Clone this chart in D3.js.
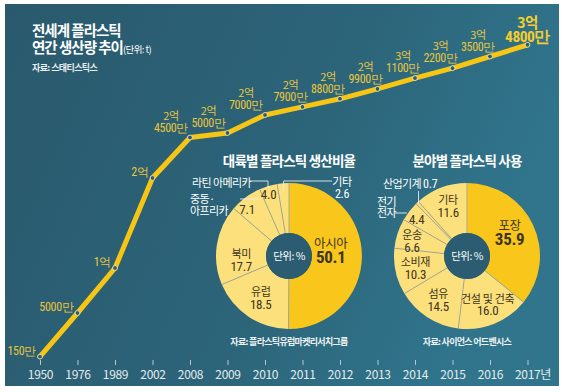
<!DOCTYPE html>
<html><head><meta charset="utf-8">
<script src="https://cdn.jsdelivr.net/npm/d3@7"></script>
<style>
html,body{margin:0;padding:0;background:#fff;}
svg{display:block;font-family:"Noto Sans CJK KR","Noto Sans",sans-serif;}
.num{font-family:"Liberation Sans Narrow","Roboto Condensed","Liberation Sans",sans-serif;}
</style></head>
<body><svg id="c" width="566" height="392"></svg>
<script>
// ---- data ----
const years = ["1950","1976","1989","2002","2008","2009","2010","2011","2012","2013","2014","2015","2016","2017"];
const production = [150, 5000, 10000, 20000, 24500, 25000, 27000, 27900, 28800, 29900, 31100, 32200, 33500, 34800]; // 만 t
const labelTop = ["", "", "", "", "2억", "2억", "2억", "2억", "2억", "2억", "3억", "3억", "3억", "3억"];
const labelBottom = ["150만", "5000만", "1억", "2억", "4500만", "5000만", "7000만", "7900만", "8800만", "9900만", "1100만", "2200만", "3500만", "4800만"];

const regions = ["아시아", "유럽", "북미", "중동·아프리카", "라틴 아메리카", "기타"];
const regionShare = [50.1, 18.5, 17.7, 7.1, 4.0, 2.6];
const sectors = ["포장", "건설 및 건축", "섬유", "소비재", "운송", "전기 전자", "산업기계", "기타"];
const sectorShare = [35.9, 16.0, 14.5, 10.3, 6.6, 4.4, 0.7, 11.6];

// ---- styles ----
const GOLD = "#f7c615", LABEL = "#eac63a", STRONG = "#f9c71c", LIGHT = "#fce07c", DARK = "#3d3520", HOLE = "#2b5c71";

const svg = d3.select("#c");
const defs = svg.append("defs");
const g1 = defs.append("linearGradient").attr("id","bg").attr("x1","0").attr("y1","0").attr("x2","1").attr("y2","0.3");
g1.append("stop").attr("offset","0").attr("stop-color","#2a596d");
g1.append("stop").attr("offset","0.6").attr("stop-color","#2c6479");
g1.append("stop").attr("offset","1").attr("stop-color","#30758c");
svg.append("rect").attr("x",5).attr("y",4).attr("width",554).attr("height",382).attr("fill","url(#bg)");

// ---- title ----
svg.append("text").attr("x",32).attr("y",36).attr("fill","#fff").attr("font-size",14.5).attr("font-weight",700)
  .attr("letter-spacing",-1).text("전세계 플라스틱");
const t2 = svg.append("text").attr("x",32).attr("y",53).attr("fill","#fff").attr("font-size",14.5).attr("font-weight",700).attr("letter-spacing",-1);
t2.append("tspan").text("연간 생산량 추이");
t2.append("tspan").attr("font-size",9.5).attr("font-weight",400).attr("letter-spacing",-0.6).text("(단위: t)");
svg.append("text").attr("x",32).attr("y",71).attr("fill","#e8eef0").attr("font-size",9).attr("font-weight",700)
  .attr("letter-spacing",-0.6).text("자료: 스태티스틱스");

// two-line text helper: one <text> with two tspans
function twoLine(parent, xx, yy1, gap, l1, l2, opt) {
  const t = parent.append("text").attr("text-anchor", opt.anchor || "middle").attr("fill", opt.fill)
    .attr("letter-spacing", opt.ls == null ? -0.4 : opt.ls);
  t.append("tspan").attr("x", xx).attr("y", yy1).attr("font-size", opt.fs1).attr("font-weight", opt.fw1 || 400)
    .attr("class", opt.num1 ? "num" : null).text(l1);
  t.append("tspan").attr("x", xx).attr("y", yy1 + gap).attr("font-size", opt.fs2).attr("font-weight", opt.fw2 || 400)
    .attr("class", opt.num2 ? "num" : null).text(l2);
  return t;
}

// ---- line chart ----
const x = d3.scalePoint().domain(years).range([40, 527.5]);
const y = d3.scaleLinear().domain([0, 40000]).range([358, -2]);

const axis = d3.axisBottom(x).tickSize(5).tickPadding(5).tickFormat(d => d === "2017" ? "2017년" : d);
const ax = svg.append("g").attr("transform","translate(0,360)").call(axis);
ax.select(".domain").remove();
ax.selectAll(".tick line").attr("stroke","#b8c6cc").attr("stroke-width",1);
ax.selectAll(".tick text").attr("fill","#e6ecee").attr("font-size",12).attr("letter-spacing",-0.3)
  .attr("font-family","'Liberation Sans Narrow','Noto Sans CJK KR',sans-serif")
  .attr("dx", d => d === "2017" ? 5 : 0);

const line = d3.line().x((d,i) => x(years[i])).y(d => y(d));
svg.append("path").datum(production).attr("d", line).attr("fill","none")
  .attr("stroke",GOLD).attr("stroke-width",5).attr("stroke-linejoin","round").attr("stroke-linecap","round");

svg.selectAll("circle.pt").data(production).join("circle").attr("class","pt")
  .attr("cx",(d,i)=>x(years[i])).attr("cy",d=>y(d)).attr("r",2.4)
  .attr("fill",HOLE).attr("stroke","#f3e2a0").attr("stroke-width",0.9);

production.forEach((v,i) => {
  const px = x(years[i]), py = y(v);
  const last = i === production.length - 1;
  if (!labelTop[i]) {
    svg.append("text").attr("x", px - 4).attr("y", py - 2).attr("text-anchor","end")
      .attr("fill",LABEL).attr("font-size",12).attr("letter-spacing",-0.3).attr("class","num")
      .text(labelBottom[i]);
  } else if (last) {
    twoLine(svg, px, py - 17, 14, labelTop[i], labelBottom[i],
      {fill:"#f5cd2e", fs1:14.5, fs2:15.5, fw1:700, fw2:700, ls:-0.5, num2:true});
  } else {
    const dx = i <= 6 ? -19 : -12;
    twoLine(svg, px + dx, py - 18, 12, labelTop[i], labelBottom[i],
      {fill:LABEL, fs1:11, fs2:12, ls:-0.3, num2:true});
  }
});

// ---- pies ----
const R = 73, r0 = 23;
function drawPie(cx, cy, values, title, source) {
  const g = svg.append("g").attr("transform", `translate(${cx},${cy})`);
  const arcs = d3.pie().sort(null).value(d => d)(values);
  const arc = d3.arc().innerRadius(r0).outerRadius(R);
  g.selectAll("path").data(arcs).join("path").attr("d", arc)
    .attr("fill", (d,i) => i === 0 ? STRONG : LIGHT);
  arcs.forEach(a => {
    const t = a.startAngle;
    g.append("line").attr("x1", r0*Math.sin(t)).attr("y1", -r0*Math.cos(t))
      .attr("x2", R*Math.sin(t)).attr("y2", -R*Math.cos(t))
      .attr("stroke","#9ea596").attr("stroke-width",0.9);
  });
  g.append("circle").attr("r", r0).attr("fill", HOLE);
  g.append("text").attr("text-anchor","middle").attr("y",4).attr("fill","#fff")
    .attr("font-size",10.5).attr("letter-spacing",-0.5).text("단위: %");
  svg.append("text").attr("x",cx).attr("y",166).attr("text-anchor","middle").attr("fill","#fff")
    .attr("font-size",13.5).attr("font-weight",700).attr("letter-spacing",-0.8).text(title);
  svg.append("text").attr("x",cx).attr("y",345).attr("text-anchor","middle").attr("fill","#eef2f3")
    .attr("font-size",9).attr("font-weight",700).attr("letter-spacing",-0.7).text(source);
  return {g, arcs};
}
function polar(angDeg, rad) {
  const t = angDeg * Math.PI / 180;
  return [rad * Math.sin(t), -rad * Math.cos(t)];
}
function midDeg(a) { return (a.startAngle + a.endAngle) / 2 * 180 / Math.PI; }
function inLabel(g, pos, name, val, big) {
  if (!name) {
    g.append("text").attr("x",pos[0]).attr("y",pos[1] + 4).attr("text-anchor","middle").attr("class","num")
      .attr("fill",DARK).attr("font-size",13).attr("letter-spacing",-0.2).text(val.toFixed(1));
  } else if (big) {
    twoLine(g, pos[0], pos[1] - 4, 15, name, val.toFixed(1), {fill:DARK, fs1:12.5, fs2:17, fw2:700, num2:true, ls:-0.3});
  } else {
    twoLine(g, pos[0], pos[1] - 2, 12.5, name, val.toFixed(1), {fill:DARK, fs1:11, fs2:13, num2:true, ls:-0.3});
  }
}
function outText(g, xx, yy, txt, anchor) {
  g.append("text").attr("x",xx).attr("y",yy).attr("text-anchor",anchor || "start")
    .attr("fill","#fff").attr("font-size",11).attr("letter-spacing",-0.6).text(txt);
}
function lead(g, pts) {
  g.append("polyline").attr("points", pts.map(p => p.join(",")).join(" "))
    .attr("fill","none").attr("stroke","#e8eef0").attr("stroke-width",0.9);
}

// left pie
{
  const {g, arcs} = drawPie(289, 256, regionShare, "대륙별 플라스틱 생산비율", "자료: 플라스틱유럽마켓리서치그룹");
  const cfg = [{da:-6, r:42, big:true}, {da:0, r:51}, {da:-14, r:48}, {da:-6, r:62, only:true}, {da:-2, r:64, only:true}];
  cfg.forEach((c,i) => {
    const p = polar(midDeg(arcs[i]) + c.da, c.r);
    inLabel(g, p, c.only ? "" : regions[i], regionShare[i], c.big);
  });
  const mea = regions[3].split("·");
  twoLine(g, -99, -53, 12, mea[0] + "·", mea[1], {anchor:"start", fill:"#fff", fs1:11, fs2:11, ls:-0.6});
  lead(g, [[-49,-57],[-29,-57]]);
  outText(g, -97, -69, regions[4]);
  lead(g, [[-39,-75],[-21,-75],[-21,-68]]);
  twoLine(g, 53, -70, 12, regions[5], regionShare[5].toFixed(1), {fill:"#fff", fs1:11, fs2:12, num2:true, ls:-0.3});
  const pe = polar(midDeg(arcs[5]), R - 8);
  lead(g, [[pe[0],pe[1]],[pe[0],-75],[43,-75]]);
}
// right pie
{
  const {g, arcs} = drawPie(467, 256, sectorShare, "분야별 플라스틱 사용", "자료: 사이언스 어드벤시스");
  const cfg = {0:{da:-2, r:48, big:true}, 1:{da:-1, r:53}, 2:{da:0, r:53}, 3:{da:-1, r:53}, 4:{da:-3, r:57}, 5:{da:-2, r:62, only:true}, 7:{da:0, r:53}};
  Object.keys(cfg).forEach(k => {
    const i = +k, c = cfg[k];
    const p = polar(midDeg(arcs[i]) + c.da, c.r);
    inLabel(g, p, c.only ? "" : sectors[i], sectorShare[i], c.big);
  });
  const parts = sectors[5].split(" ");
  twoLine(g, -90, -50, 11, parts[0], parts[1], {anchor:"start", fill:"#fff", fs1:11, fs2:11, ls:-0.6});
  lead(g, [[-72,-43],[-60,-43]]);
  const tm = g.append("text").attr("x",-84).attr("y",-68).attr("fill","#fff").attr("font-size",11).attr("letter-spacing",-0.6);
  tm.append("tspan").text(sectors[6] + " ");
  tm.append("tspan").attr("class","num").attr("font-size",12).attr("letter-spacing",-0.2).text(sectorShare[6].toFixed(1));
  const pe = polar(midDeg(arcs[6]), R - 2);
  lead(g, [[pe[0], -65],[pe[0], pe[1]]]);
}
</script></body></html>
